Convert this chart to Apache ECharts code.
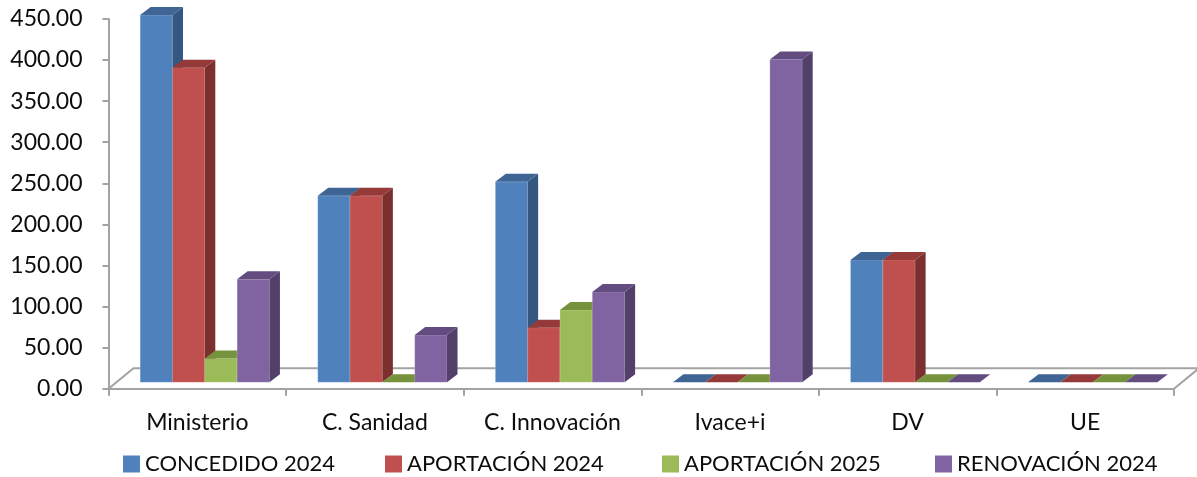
<!DOCTYPE html>
<html><head><meta charset="utf-8">
<script src="https://cdn.jsdelivr.net/npm/echarts@6/dist/echarts.min.js"></script>
<style>html,body{margin:0;padding:0;background:#fff}#c{width:1197px;height:477px}</style>
</head><body><div id="c"></div>
<script>
// ---- data ----
const categories = ['Ministerio', 'C. Sanidad', 'C. Innovación', 'Ivace+i', 'DV', 'UE'];
const seriesNames = ['CONCEDIDO 2024', 'APORTACIÓN 2024', 'APORTACIÓN 2025', 'RENOVACIÓN 2024'];
const concedido2024 = [447, 227, 244, 0, 149, 0];
const aportacion2024 = [383, 227, 66.5, 0, 149, 0];
const aportacion2025 = [29, 0, 88, 0, 0, 0];
const renovacion2024 = [125.5, 57.5, 110, 393, 0, 0];
const yMin = 0, yMax = 450, yInterval = 50;

// ---- style ----
const frontColors = ['#4F81BD', '#C0504D', '#9BBB59', '#8064A2'];
const topColors = ['#3E6594', '#953A38', '#76923C', '#624C80'];
const sideColors = ['#35567F', '#7B2F2E', '#6A8436', '#523F6A'];
const FONT = 'Lato';
const TXT = '#0d0d0d';
const GRAY = '#A3A3A3';
const DEPTH_X = 10.5, DEPTH_Y = -8;      // bar depth
const FLOOR_X = 25, FLOOR_Y = -20.5;     // floor depth
const BAR_FRAC = 0.182;

const allValues = [concedido2024, aportacion2024, aportacion2025, renovacion2024];

function barRender(sIdx) {
  return function (params, api) {
    const cat = api.value(0), val = api.value(1);
    const band = api.size([1, 0])[0];
    const bw = band * BAR_FRAC;
    const base = api.coord([cat, 0]);
    const top = api.coord([cat, val]);
    const x = base[0] + (sIdx - 2) * bw;
    const yb = base[1], yt = top[1];
    const children = [];
    if (yb - yt > 0.01) {
      children.push({ type: 'rect', shape: { x: x, y: yt, width: bw, height: yb - yt },
        style: { fill: frontColors[sIdx], stroke: 'rgba(255,255,255,0.35)', lineWidth: 0.6 } });
      children.push({ type: 'polygon', shape: { points: [[x + bw, yt], [x + bw + DEPTH_X, yt + DEPTH_Y], [x + bw + DEPTH_X, yb + DEPTH_Y], [x + bw, yb]] },
        style: { fill: sideColors[sIdx] } });
    }
    children.push({ type: 'polygon', shape: { points: [[x, yt], [x + DEPTH_X, yt + DEPTH_Y], [x + bw + DEPTH_X, yt + DEPTH_Y], [x + bw, yt]] },
      style: { fill: topColors[sIdx] } });
    return { type: 'group', children: children };
  };
}

function floorRender(params, api) {
  const band = api.size([1, 0])[0];
  const p0 = api.coord([0, 0]);
  const pN = api.coord([categories.length - 1, 0]);
  const xl = p0[0] - band / 2, xr = pN[0] + band / 2, y = p0[1];
  return { type: 'polyline', shape: { points: [[xl, y], [xl + FLOOR_X, y + FLOOR_Y], [xr + FLOOR_X, y + FLOOR_Y], [xr, y]] },
    style: { stroke: GRAY, lineWidth: 2, fill: 'none' } };
}

const chart = echarts.init(document.getElementById('c'), null, { renderer: 'canvas' });

const legendLefts = [123, 385, 662, 935];
const series = [{
  type: 'custom', name: '_floor', xAxisIndex: 0, yAxisIndex: 0, silent: true, z: 1,
  data: [[0, 0]], renderItem: floorRender, encode: { x: 0, y: 1 }
}];
seriesNames.forEach((n, i) => {
  series.push({
    type: 'custom', name: n, xAxisIndex: 1, yAxisIndex: 1, z: 3,
    itemStyle: { color: frontColors[i] },
    data: allValues[i].map((v, k) => [k, v]),
    encode: { x: 0, y: 1 },
    renderItem: barRender(i)
  });
});

chart.setOption({
  animation: false,
  textStyle: { fontFamily: FONT },
  grid: [
    { left: 108.5, right: 23, top: 19, bottom: 88.3 },
    { left: 116, right: 15.5, top: 12.6, bottom: 94.7 }
  ],
  xAxis: [
    { type: 'category', gridIndex: 0, data: categories, boundaryGap: true,
      axisLine: { lineStyle: { color: GRAY, width: 2 } },
      axisTick: { show: true, length: 7, lineStyle: { color: GRAY, width: 2 } },
      axisLabel: { color: TXT, fontSize: 23, fontFamily: FONT, margin: 22, interval: 0 } },
    { type: 'category', gridIndex: 1, data: categories, boundaryGap: true, show: false }
  ],
  yAxis: [
    { type: 'value', gridIndex: 0, min: yMin, max: yMax, interval: yInterval,
      axisLine: { show: true, lineStyle: { color: GRAY, width: 2 } },
      axisTick: { show: true, length: 6, lineStyle: { color: GRAY, width: 2 } },
      splitLine: { show: false },
      axisLabel: { color: TXT, fontSize: 23, fontFamily: FONT, margin: 26, formatter: v => v.toFixed(2) } },
    { type: 'value', gridIndex: 1, min: yMin, max: yMax, interval: yInterval, show: false, splitLine: { show: false } }
  ],
  legend: seriesNames.map((n, i) => ({
    data: [n], left: legendLefts[i], top: 453, padding: 0, icon: 'rect', itemWidth: 17, itemHeight: 17, itemGap: 6,
    textStyle: { color: TXT, fontSize: 22, fontFamily: FONT, padding: [0, 0, 0, 0] }
  })),
  series: series
});
</script></body></html>
